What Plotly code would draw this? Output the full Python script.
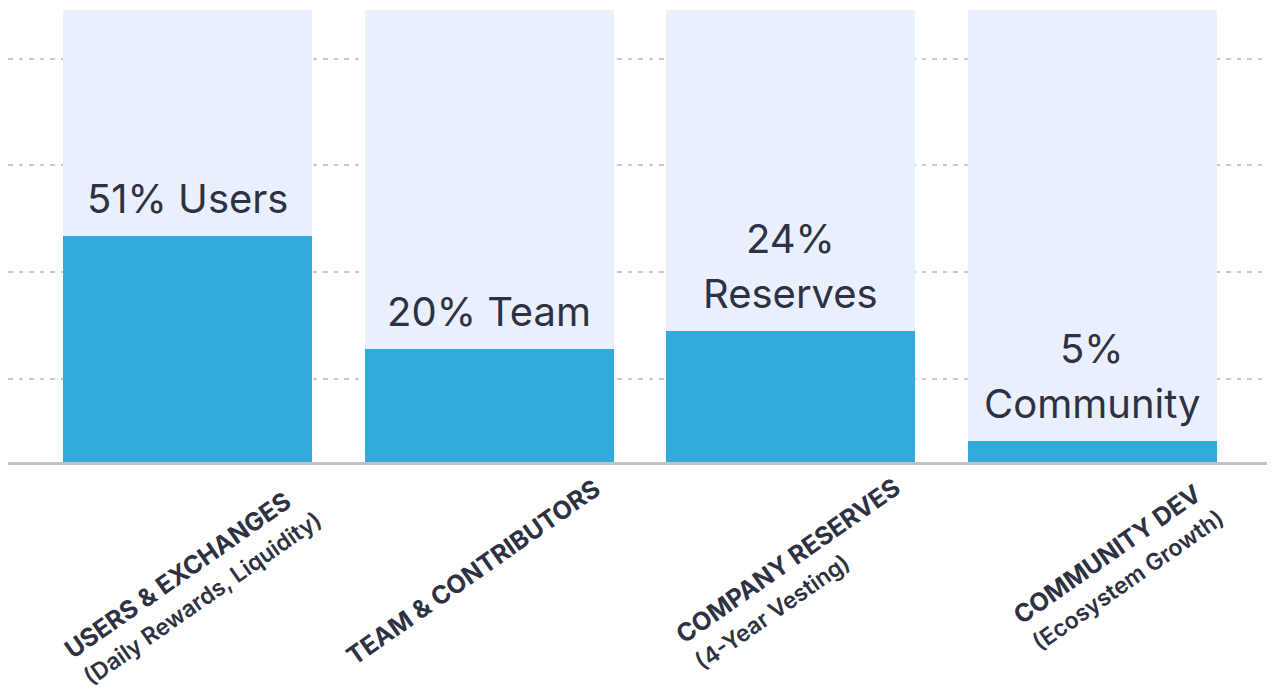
import plotly.graph_objects as go

# ---- data ----
categories = ["USERS & EXCHANGES", "TEAM & CONTRIBUTORS", "COMPANY RESERVES", "COMMUNITY DEV"]
subtitles = ["(Daily Rewards, Liquidity)", "", "(4-Year Vesting)", "(Ecosystem Growth)"]
track_values = [100, 100, 100, 100]          # full-height background tracks
bar_values = [50.1, 24.9, 28.9, 4.6]         # plotted bar heights
value_labels = ["51% Users", "20% Team", "24%<br>Reserves", "5%<br>Community"]

# ---- styles ----
TRACK = "#E9EFFD"
BLUE = "#33AADC"
TEXT = "#2D3142"
FONT = "Inter"

xs = list(range(len(categories)))

fig = go.Figure()
fig.add_trace(go.Bar(x=xs, y=track_values, width=0.826, marker=dict(color=TRACK, line=dict(width=0)),
                     hoverinfo="skip", showlegend=False))
fig.add_trace(go.Bar(x=xs, y=bar_values, width=0.826, marker=dict(color=BLUE, line=dict(width=0)),
                     hoverinfo="skip", showlegend=False))

# value labels above the bars (one annotation per line)
LINE_GAP = 55
for i, lab in enumerate(value_labels):
    lines = lab.split("<br>")
    n = len(lines)
    for j, ln in enumerate(lines):
        fig.add_annotation(x=xs[i], y=bar_values[i], xref="x", yref="y", text=ln, showarrow=False,
                           xanchor="center", yanchor="bottom", yshift=11 + (n - 1 - j) * LINE_GAP,
                           font=dict(family=FONT, size=40, color=TEXT))

# rotated category labels
label_shift = [(5, -122), (-16, -110), (6, -112), (26, -104)]
for i, (cat, sub) in enumerate(zip(categories, subtitles)):
    txt = "<b>" + cat + "</b>"
    if sub:
        txt += "<br><span style='font-size:23px'>" + sub + "</span>"
    fig.add_annotation(x=xs[i], y=0, xref="x", yref="y", text=txt, showarrow=False,
                       textangle=-35, align="left", xanchor="center", yanchor="middle",
                       xshift=label_shift[i][0], yshift=label_shift[i][1],
                       font=dict(family=FONT, size=25, color=TEXT, weight=600))

fig.update_layout(
    width=1267, height=684,
    margin=dict(l=0, r=0, t=2, b=229.5),
    paper_bgcolor="white", plot_bgcolor="white",
    barmode="overlay", bargap=0,
    showlegend=False,
    xaxis=dict(range=[-0.5966, 3.607], showticklabels=False, showgrid=False, zeroline=False,
               showline=True, linecolor="#C2C2C2", linewidth=3, layer="below traces", ticks=""),
    yaxis=dict(range=[0, 100], showticklabels=False, showgrid=True, gridcolor="#CACACA",
               gridwidth=2, griddash="4.5px,6px", tick0=18.45, dtick=23.6, zeroline=False,
               showline=False, ticks=""),
)

fig.write_html("out.html")
